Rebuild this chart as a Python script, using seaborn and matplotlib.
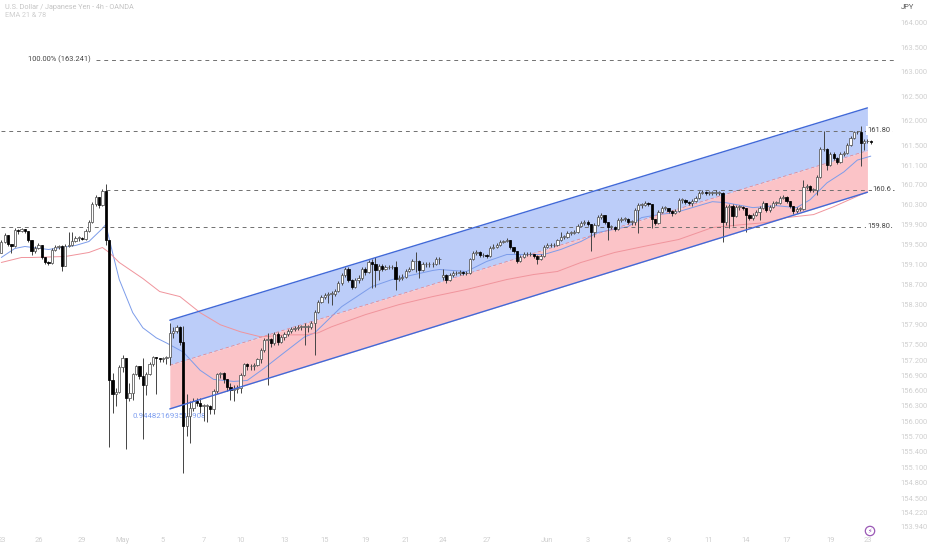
import matplotlib
matplotlib.use("Agg")
import matplotlib.pyplot as plt
import numpy as np
import pandas as pd
import seaborn as sns

# USD/JPY 4h bars. open is the previous close except at gaps
closes = [
    159.54, 159.70, 159.50, 159.46, 159.80, 159.78, 159.81, 159.78, 159.58, 159.36,
    159.42, 159.48, 159.24, 159.14, 159.12, 159.38, 159.44, 159.46, 159.06, 159.46,
    159.48, 159.56, 159.64, 159.64, 159.62, 159.78, 159.96, 160.32, 160.46, 160.30,
    160.58, 159.60, 156.80, 156.54, 156.58, 157.06, 157.24, 156.46, 156.56, 156.92,
    157.08, 156.88, 156.70, 156.92, 157.12, 157.26, 157.24, 157.23, 157.24, 157.26,
    157.74, 157.78, 157.86, 157.56, 155.90, 156.10, 156.26, 156.40, 156.36, 156.30,
    156.30, 156.30, 156.24, 156.60, 156.92, 156.94, 156.82, 156.68, 156.62, 156.64,
    156.66, 156.90, 157.12, 157.08, 157.08, 157.10, 157.22, 157.40, 157.60, 157.62,
    157.54, 157.72, 157.56, 157.66, 157.72, 157.78, 157.82, 157.84, 157.86, 157.86,
    157.86, 157.86, 157.94, 158.16, 158.36, 158.46, 158.50, 158.52, 158.52, 158.58,
    158.74, 158.88, 159.00, 158.80, 158.66, 158.80, 158.84, 159.00, 158.94, 159.14,
    159.10, 158.98, 159.06, 159.00, 159.04, 159.04, 159.04, 158.82, 158.84, 158.86,
    158.96, 159.00, 159.16, 159.16, 158.98, 159.10, 159.10, 159.10, 159.10, 159.20,
    159.20, 158.88, 158.80, 158.88, 158.92, 158.92, 158.94, 158.92, 158.92, 159.20,
    159.32, 159.34, 159.28, 159.28, 159.26, 159.42, 159.44, 159.48, 159.54, 159.56,
    159.58, 159.44, 159.36, 159.16, 159.24, 159.30, 159.30, 159.30, 159.26, 159.20,
    159.26, 159.44, 159.48, 159.48, 159.48, 159.58, 159.66, 159.66, 159.74, 159.74,
    159.76, 159.88, 159.94, 159.96, 159.92, 159.76, 159.90, 160.06, 160.10, 159.96,
    159.86, 159.86, 159.82, 160.00, 160.02, 160.02, 159.96, 159.96, 160.20, 160.30,
    160.30, 160.34, 160.32, 160.02, 159.94, 160.16, 160.24, 160.24, 160.18, 160.14,
    160.18, 160.40, 160.40, 160.36, 160.34, 160.38, 160.44, 160.54, 160.56, 160.54,
    160.54, 160.54, 160.54, 160.54, 159.96, 160.26, 160.28, 160.08, 160.26, 160.26,
    160.24, 160.10, 160.04, 160.10, 160.16, 160.24, 160.34, 160.20, 160.26, 160.34,
    160.34, 160.44, 160.46, 160.38, 160.28, 160.18, 160.22, 160.22, 160.66, 160.68,
    160.60, 160.60, 160.86, 161.42, 161.42, 161.10, 161.32, 161.24, 161.16, 161.32,
    161.34, 161.50, 161.64, 161.76, 161.76, 161.54, 161.58, 161.58, 161.56,
]
highs = [
    159.58, 159.74, 159.70, 159.50, 159.84, 159.82, 159.84, 159.82, 159.78, 159.58,
    159.46, 159.52, 159.48, 159.24, 159.16, 159.42, 159.48, 159.48, 159.48, 159.50,
    159.76, 159.76, 159.68, 159.68, 159.66, 159.82, 160.00, 160.36, 160.50, 160.46,
    160.62, 160.72, 159.60, 156.94, 156.66, 157.10, 157.30, 157.24, 156.74, 156.94,
    157.10, 157.08, 157.24, 156.96, 157.16, 157.28, 157.26, 157.24, 157.26, 157.28,
    157.94, 157.86, 157.90, 157.88, 157.88, 156.54, 156.40, 156.46, 156.46, 156.46,
    156.34, 156.34, 156.32, 156.64, 156.94, 156.96, 156.96, 156.82, 156.74, 156.70,
    156.70, 156.94, 157.14, 157.14, 157.12, 157.14, 157.24, 157.44, 157.64, 157.74,
    157.64, 157.76, 157.76, 157.70, 157.76, 157.82, 157.86, 157.88, 157.90, 157.90,
    157.94, 157.90, 157.98, 158.20, 158.40, 158.50, 158.54, 158.56, 158.58, 158.62,
    158.78, 158.92, 159.04, 159.04, 158.82, 158.84, 158.88, 159.04, 159.04, 159.18,
    159.20, 159.24, 159.10, 159.10, 159.08, 159.08, 159.08, 159.16, 158.88, 158.90,
    159.00, 159.04, 159.20, 159.34, 159.18, 159.14, 159.14, 159.14, 159.14, 159.24,
    159.24, 159.00, 158.90, 158.92, 158.96, 158.96, 158.98, 158.96, 158.96, 159.22,
    159.36, 159.38, 159.36, 159.32, 159.30, 159.46, 159.50, 159.52, 159.58, 159.60,
    159.64, 159.58, 159.44, 159.36, 159.28, 159.34, 159.34, 159.34, 159.30, 159.28,
    159.30, 159.48, 159.52, 159.52, 159.52, 159.62, 159.76, 159.70, 159.78, 159.78,
    159.80, 159.92, 159.98, 160.00, 160.00, 159.92, 159.94, 160.10, 160.14, 160.10,
    159.96, 159.90, 159.88, 160.04, 160.06, 160.06, 160.04, 160.00, 160.24, 160.34,
    160.34, 160.38, 160.36, 160.32, 160.02, 160.20, 160.28, 160.28, 160.24, 160.20,
    160.22, 160.44, 160.44, 160.42, 160.38, 160.42, 160.48, 160.58, 160.60, 160.58,
    160.58, 160.58, 160.60, 160.58, 160.56, 160.30, 160.32, 160.32, 160.30, 160.30,
    160.28, 160.24, 160.12, 160.14, 160.20, 160.28, 160.38, 160.34, 160.30, 160.38,
    160.38, 160.48, 160.50, 160.48, 160.38, 160.28, 160.26, 160.26, 160.80, 160.72,
    160.70, 160.64, 160.90, 161.46, 161.78, 161.44, 161.36, 161.36, 161.26, 161.36,
    161.38, 161.54, 161.68, 161.80, 161.80, 161.90, 161.62, 161.62, 161.60,
]
lows = [
    159.32, 159.52, 159.46, 159.32, 159.44, 159.72, 159.76, 159.74, 159.54, 159.28,
    159.32, 159.40, 159.20, 159.10, 159.08, 159.10, 159.36, 159.40, 158.96, 159.06,
    159.44, 159.46, 159.54, 159.56, 159.58, 159.60, 159.76, 159.94, 160.28, 160.24,
    160.28, 159.48, 155.50, 156.16, 156.30, 156.56, 156.96, 155.46, 156.40, 156.42,
    156.90, 156.82, 155.66, 156.52, 156.90, 157.08, 156.54, 157.16, 157.16, 157.12,
    157.10, 157.64, 157.74, 157.50, 154.98, 155.70, 155.58, 156.20, 156.30, 156.16,
    156.00, 155.98, 156.14, 156.14, 156.56, 156.84, 156.74, 156.60, 156.42, 156.40,
    156.56, 156.56, 156.88, 157.00, 157.00, 157.00, 157.08, 157.14, 157.36, 156.70,
    157.46, 157.50, 157.50, 157.54, 157.60, 157.68, 157.74, 157.78, 157.80, 157.80,
    157.50, 157.76, 157.82, 157.30, 158.14, 158.34, 158.42, 158.34, 158.30, 158.48,
    158.56, 158.70, 158.86, 158.76, 158.62, 158.64, 158.74, 158.80, 158.88, 158.92,
    158.64, 158.66, 158.80, 158.96, 158.98, 159.00, 159.00, 158.60, 158.78, 158.80,
    158.84, 158.94, 158.98, 158.94, 158.84, 158.96, 159.04, 159.04, 159.04, 159.08,
    159.10, 158.80, 158.74, 158.78, 158.86, 158.88, 158.88, 158.88, 158.88, 158.90,
    159.18, 159.28, 159.24, 159.24, 159.22, 159.24, 159.40, 159.42, 159.46, 159.52,
    159.54, 159.40, 159.32, 159.12, 159.14, 159.22, 159.26, 159.26, 159.22, 159.10,
    159.18, 159.24, 159.42, 159.44, 159.44, 159.46, 159.56, 159.62, 159.64, 159.70,
    159.72, 159.74, 159.86, 159.90, 159.88, 159.36, 159.66, 159.88, 160.02, 159.92,
    159.60, 159.82, 159.78, 159.80, 159.96, 159.98, 159.92, 159.90, 159.90, 159.74,
    160.24, 160.28, 160.28, 159.84, 159.90, 159.92, 160.14, 160.20, 160.14, 160.08,
    160.12, 160.16, 160.34, 160.32, 160.30, 160.28, 160.36, 160.42, 160.52, 160.50,
    160.50, 160.50, 160.50, 160.50, 159.54, 159.90, 159.84, 159.88, 160.06, 160.20,
    160.20, 159.76, 160.00, 160.00, 160.08, 160.00, 160.22, 160.16, 160.16, 160.24,
    160.30, 160.32, 160.42, 160.34, 160.24, 160.12, 160.14, 160.18, 160.20, 160.62,
    160.56, 160.56, 160.50, 160.84, 161.38, 161.00, 161.08, 161.20, 161.12, 161.14,
    161.28, 161.32, 161.48, 161.62, 161.72, 161.08, 161.40, 161.54, 161.52,
]
gap_opens = {0: 159.32, 131: 158.86}

# moving averages, sampled at the bars where they could be read
ema21_bars = [0, 4, 7, 14, 22, 26, 30, 31, 33, 35, 39, 42, 46, 49, 54, 59, 63, 69, 73, 78, 83, 90, 93, 97, 101, 110,
              116, 128, 130, 138, 144, 150, 153, 161, 166, 172, 177, 186, 190, 195, 200, 206, 211, 215, 223, 230,
              236, 240, 245, 250, 254, 258]
ema21 = [159.24, 159.42, 159.46, 159.40, 159.48, 159.56, 159.82, 159.90, 159.34, 158.80, 158.14, 157.84, 157.64,
         157.54, 157.36, 157.00, 156.82, 156.78, 156.80, 157.04, 157.30, 157.66, 157.74, 158.00, 158.26, 158.66,
         158.80, 158.98, 159.00, 158.96, 159.16, 159.30, 159.30, 159.30, 159.40, 159.56, 159.74, 159.86, 160.04,
         160.10, 160.14, 160.26, 160.36, 160.34, 160.24, 160.28, 160.24, 160.40, 160.74, 160.96, 161.20, 161.28]
ema78_bars = [0, 6, 9, 19, 26, 30, 32, 35, 42, 47, 53, 59, 65, 71, 77, 85, 90, 94, 98, 108, 118, 128, 138, 150, 158,
              165, 172, 182, 192, 201, 211, 220, 227, 233, 241, 247, 257]
ema78 = [159.14, 159.24, 159.24, 159.26, 159.34, 159.44, 159.34, 159.14, 158.82, 158.56, 158.46, 158.14, 157.90,
         157.76, 157.66, 157.70, 157.70, 157.74, 157.86, 158.10, 158.30, 158.46, 158.60, 158.80, 158.90, 158.96,
         159.14, 159.34, 159.48, 159.60, 159.84, 159.90, 159.94, 160.04, 160.10, 160.26, 160.56]

# regression channel
channel_bars = [50, 257]
channel_top = [157.99, 162.26]
channel_mid = [157.10, 161.39]
channel_bottom = [156.24, 160.55]

# the 159.80 level sits a little above its own label value on the price scale
level_prices = [163.241, 161.80, 160.6, 159.86]
level_starts = [28, 0, 31, 0]
level_labels = ["161.80", "160.6", "159.80"]
level_label_bars = [257, 258.6, 257]

date_bars = [0, 11, 24, 36, 48, 60, 71, 84, 96, 108, 120, 131, 144, 162, 174, 186, 198, 210, 221, 233, 246, 257]
date_labels = ["23", "26", "29", "May", "5", "7", "10", "13", "15", "19", "21", "24", "27", "Jun",
               "3", "5", "9", "11", "14", "17", "19", "23"]
price_ticks = [164.0, 163.5, 163.0, 162.5, 162.0, 161.5, 161.1, 160.7, 160.3, 159.9, 159.5, 159.1, 158.7, 158.3,
               157.9, 157.5, 157.2, 156.9, 156.6, 156.3, 156.0, 155.7, 155.4, 155.1, 154.8, 154.5, 154.22, 153.94]

BLUE = "#4169d8"
TICK_GREY = "#cfcfcf"
LABEL_SIZE = 5.4

sns.set_theme(style="white")
plt.rcParams["font.family"] = ["Roboto", "DejaVu Sans"]

fig = plt.figure(figsize=(9.32, 5.5), dpi=100)
ax = fig.add_axes([0, 15 / 550, 890 / 932, 535 / 550])
sns.despine(ax=ax, left=True, bottom=True, right=True, top=True)

bars = pd.DataFrame({"close": closes, "high": highs, "low": lows})
bars["open"] = bars["close"].shift(1)
for bar, price in gap_opens.items():
    bars.loc[bar, "open"] = price
bars["bar"] = np.arange(len(bars))

ax.fill_between(channel_bars, channel_mid, channel_top, color="#bccdf9", lw=0, zorder=1)
ax.fill_between(channel_bars, channel_bottom, channel_mid, color="#fbc3c7", lw=0, zorder=1)

sns.lineplot(x=ema21_bars, y=ema21, ax=ax, color="#7c9cea", lw=0.7, estimator=None, zorder=2)
sns.lineplot(x=ema78_bars, y=ema78, ax=ax, color="#f0949c", lw=0.7, estimator=None, zorder=2)

ax.plot(channel_bars, channel_mid, color="#e58a94", lw=0.6, ls=(0, (4, 3)), zorder=2)

for price, start in zip(level_prices, level_starts):
    ax.hlines(price, start, 265, color="#707070", lw=0.7, ls=(0, (4, 4)), zorder=3, clip_on=False)

# candles
ax.vlines(bars["bar"], bars["low"], bars["high"], color="#444444", lw=0.7, zorder=4)
up = bars["close"] >= bars["open"]
ax.bar(bars["bar"][up], (bars["close"] - bars["open"])[up].clip(lower=0.012), bottom=bars["open"][up], width=0.68,
       color="white", edgecolor="#555555", lw=0.55, zorder=5)
ax.bar(bars["bar"][~up], (bars["open"] - bars["close"])[~up].clip(lower=0.012), bottom=bars["close"][~up], width=0.68,
       color="black", edgecolor="black", lw=0.55, zorder=5)

ax.plot(channel_bars, channel_top, color=BLUE, lw=1.0, zorder=6)
ax.plot(channel_bars, channel_bottom, color=BLUE, lw=1.0, zorder=6)

ax.set_yscale("log")
ax.set_ylim(153.785, 164.474)
ax.set_xlim(-0.386, 263.7)
ax.minorticks_off()
ax.yaxis.tick_right()
ax.set_yticks(price_ticks)
ax.set_yticklabels([f"{p:.3f}" for p in price_ticks], fontsize=LABEL_SIZE, color=TICK_GREY)
ax.set_xticks(date_bars)
ax.set_xticklabels(date_labels, fontsize=LABEL_SIZE, color=TICK_GREY)
ax.tick_params(axis="y", length=0, pad=7.5)
ax.tick_params(axis="x", length=0, pad=1.8)
ax.set_xlabel("")
ax.set_ylabel("")

ax.text(26.5, 163.241, "100.00% (163.241)", fontsize=LABEL_SIZE, color="#444444", ha="right", va="center", zorder=7)
for price, label, label_bar in zip(level_prices[1:], level_labels, level_label_bars):
    ax.text(label_bar, price, label, fontsize=LABEL_SIZE, color="#444444", ha="left", va="center", zorder=7,
            bbox=dict(fc="white", ec="none", pad=0.8))
ax.text(39, 156.1, "0.944821693511908", fontsize=5.7, color="#7f9ff0", ha="left", va="center", zorder=3)

fig.text(5 / 932, 1 - 7.5 / 550, "U.S. Dollar / Japanese Yen - 4h - OANDA", fontsize=5.2, color="#c4c4c4", va="center")
fig.text(5 / 932, 1 - 15.5 / 550, "EMA 21 & 78", fontsize=5.2, color="#cfcfcf", va="center")
fig.text(901 / 932, 1 - 7.5 / 550, "JPY", fontsize=5.4, color="#555555", va="center")
fig.text(870 / 932, 1 - 531 / 550, "\u26a1", fontsize=4.5, color="#8e44ad", family="DejaVu Sans", ha="center",
         va="center", bbox=dict(boxstyle="circle,pad=0.35", fc="white", ec="#9b59b6", lw=0.9))

fig.savefig("out.png", dpi=100)
